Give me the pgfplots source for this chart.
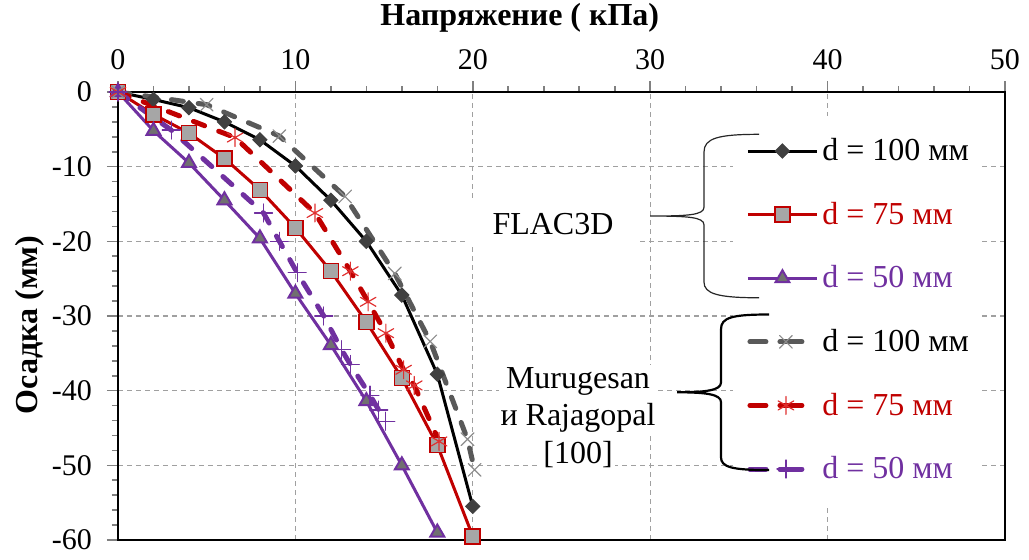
\documentclass[border=0pt]{standalone}
\usepackage{fontspec}
\setmainfont{Liberation Serif}
\usepackage{pgfplots}
\pgfplotsset{compat=1.18}
\definecolor{cRed}{HTML}{C00000}
\definecolor{cStar}{HTML}{E03030}
\definecolor{cPurple}{HTML}{7030A0}
\definecolor{cDkGray}{HTML}{404040}
\definecolor{cGrayLine}{HTML}{595959}
\definecolor{cGrayMark}{HTML}{8C8C8C}
\definecolor{cSqFill}{HTML}{A6A6A6}
\definecolor{cTriFill}{HTML}{707070}
\definecolor{cGrid}{HTML}{A0A0A0}

\pgfplotsset{
  flacleg/.style={legend image code/.code={%
    \draw[mark repeat=2,mark phase=2] plot coordinates {(0pt,0pt) (17.25pt,0pt) (34.5pt,0pt)};}},
  murleg/.style={legend image code/.code={%
    \draw[solid,line cap=round] (1pt,0pt) -- (9pt,0pt) (16pt,0pt) -- (27pt,0pt);
    \draw[only marks] plot coordinates {(19pt,0pt)};
    \path (0pt,0pt) (34.5pt,0pt);}},
  murline/.style={line width=2.5pt, line cap=round, dash pattern=on 6pt off 7.5pt},
}

\begin{document}
\begin{tikzpicture}
\useasboundingbox (-59pt,-10pt) rectangle (455.5pt,270pt);
\begin{axis}[
  scale only axis, width=443.5pt, height=224pt,
  at={(0pt,0pt)}, anchor=south west,
  xmin=0, xmax=50, ymin=-60, ymax=0,
  xtick={0,10,...,50}, ytick={-60,-50,...,0},
  minor x tick num=4, minor y tick num=4,
  xtick pos=right, ytick pos=left, xticklabel pos=right,
  tick align=outside,
  major tick length=5.5pt, minor tick length=3pt,
  tick style={color=gray, line width=0.8pt},
  grid=major,
  major grid style={cGrid, line width=0.6pt, dash pattern=on 2.5pt off 2pt},
  axis line style={line width=1.4pt, black},
  /pgf/number format/assume math mode=true,
  ticklabel style={font=\fontsize{15}{17}\selectfont},
  yticklabel style={xshift=-4pt},
  xticklabel style={yshift=2pt},
  xlabel={Напряжение ( кПа)},
  xlabel style={at={(rel axis cs:0.453,1.1647)}, anchor=center, font=\bfseries\fontsize{16}{18}\selectfont},
  ylabel={Осадка (мм)},
  ylabel style={at={(rel axis cs:-0.099,0.48)}, anchor=center, rotate=0, font=\bfseries\fontsize{16}{18}\selectfont},
  clip=false,
  flacleg,
  legend cell align=left,
  legend style={at={(0.6934,0.9464)}, anchor=north west, draw=none, fill=white,
    inner xsep=6pt, inner ysep=8pt, row sep=13.2pt,
    nodes={inner xsep=0pt, inner ysep=3pt},
    font=\fontsize{16}{18}\selectfont,
    /tikz/every odd column/.append style={column sep=1.5pt}},
]
% FLAC3D
\addplot[black, line width=1.5pt, mark=square*, mark size=2.5pt,
  mark options={rotate=45, fill=cDkGray, draw=cDkGray, line width=0.5pt}] coordinates {
  (0,0) (2,-1) (4,-2.1) (6,-4) (8,-6.4) (10,-9.9) (12,-14.5) (14,-20) (16,-27.2) (18,-37.8) (20,-55.5)
};
\addlegendentry{d = 100 мм}
\addplot[cRed, line width=1.5pt, mark=square*, mark size=3.75pt,
  mark options={fill=cSqFill, draw=cRed, line width=0.8pt}] coordinates {
  (0,0) (2,-3) (4,-5.5) (6,-8.9) (8,-13.1) (10,-18.2) (12,-24) (14,-30.8) (16,-38.3) (18,-47.3) (20,-59.5)
};
\addlegendentry[text=cRed]{d = 75 мм}
\addplot[cPurple, line width=1.5pt, mark=triangle*, mark size=4pt,
  mark options={fill=cTriFill, draw=cPurple, line width=1pt}] coordinates {
  (0,0) (2,-5.2) (4,-9.5) (6,-14.5) (8,-19.6) (10,-27) (12,-33.9) (14,-41.4) (16,-50) (18,-59)
};
\addlegendentry[text=cPurple]{d = 50 мм}
% Murugesan & Rajagopal
\addplot[cGrayLine, murline, murleg, mark=x, mark size=4.5pt,
  mark options={solid, draw=cGrayMark, line width=0.6pt}] coordinates {
  (0,0) (5,-1.7) (9.1,-5.9) (12.8,-14) (15.6,-24.3) (17.6,-33.4) (19.7,-46.5) (20.1,-50.6)
};
\addlegendentry{d = 100 мм}
\addplot[cRed, murline, murleg, mark=asterisk, mark size=4.5pt,
  mark options={solid, draw=cStar, line width=0.6pt}] coordinates {
  (0,0) (6.6,-6.1) (11.1,-16.2) (13.1,-24) (14.1,-28.1) (15.1,-32.3) (16.1,-37.2) (16.7,-39.3) (18.1,-46.8)
};
\addlegendentry[text=cRed]{d = 75 мм}
\addplot[cPurple, murline, murleg, mark=+, mark size=4.5pt,
  mark options={solid, draw=cPurple, line width=0.6pt}] coordinates {
  (0,0) (3,-5.1) (8.2,-16.2) (9.1,-20) (10.1,-24.2) (11.6,-30) (12.6,-34.5) (13.1,-36.5) (14.2,-40.6) (14.7,-42.6) (15.1,-44.1)
};
\addlegendentry[text=cPurple]{d = 50 мм}
\end{axis}
% group labels and braces
\begin{scope}[yscale=0.98462]
\node[fill=white, inner xsep=12pt, inner ysep=6pt, font=\fontsize{16}{18}\selectfont] at (217.5pt,160.5pt) {FLAC3D};
\node[fill=white, align=center, inner sep=1pt, font=\fontsize{16}{18.5}\selectfont] at (230pt,71.25pt) {Murugesan\\и Rajagopal};
\node[fill=white, inner sep=1pt, font=\fontsize{16}{18}\selectfont] at (230pt,43.5pt) {[100]};
\draw[line width=0.6pt, black!85] (320.5pt,206pt) .. controls (300pt,206pt) and (293pt,204pt) .. (293pt,197pt)
  -- (293pt,169pt) .. controls (293pt,165pt) and (285pt,164.5pt) .. (266pt,164.5pt)
  .. controls (285pt,164.5pt) and (293pt,164pt) .. (293pt,160pt)
  -- (293pt,131pt) .. controls (293pt,125pt) and (300pt,123pt) .. (320.5pt,123pt);
\draw[line width=1.1pt, black] (325.5pt,114.5pt) .. controls (307pt,114.5pt) and (301.5pt,113pt) .. (301.5pt,107pt)
  -- (301.5pt,80pt) .. controls (301.5pt,76pt) and (294pt,75pt) .. (279.5pt,75pt)
  .. controls (294pt,75pt) and (301.5pt,74pt) .. (301.5pt,70pt)
  -- (301.5pt,42pt) .. controls (301.5pt,37pt) and (307pt,35.5pt) .. (325.5pt,35.5pt);
\end{scope}
\end{tikzpicture}
\end{document}
